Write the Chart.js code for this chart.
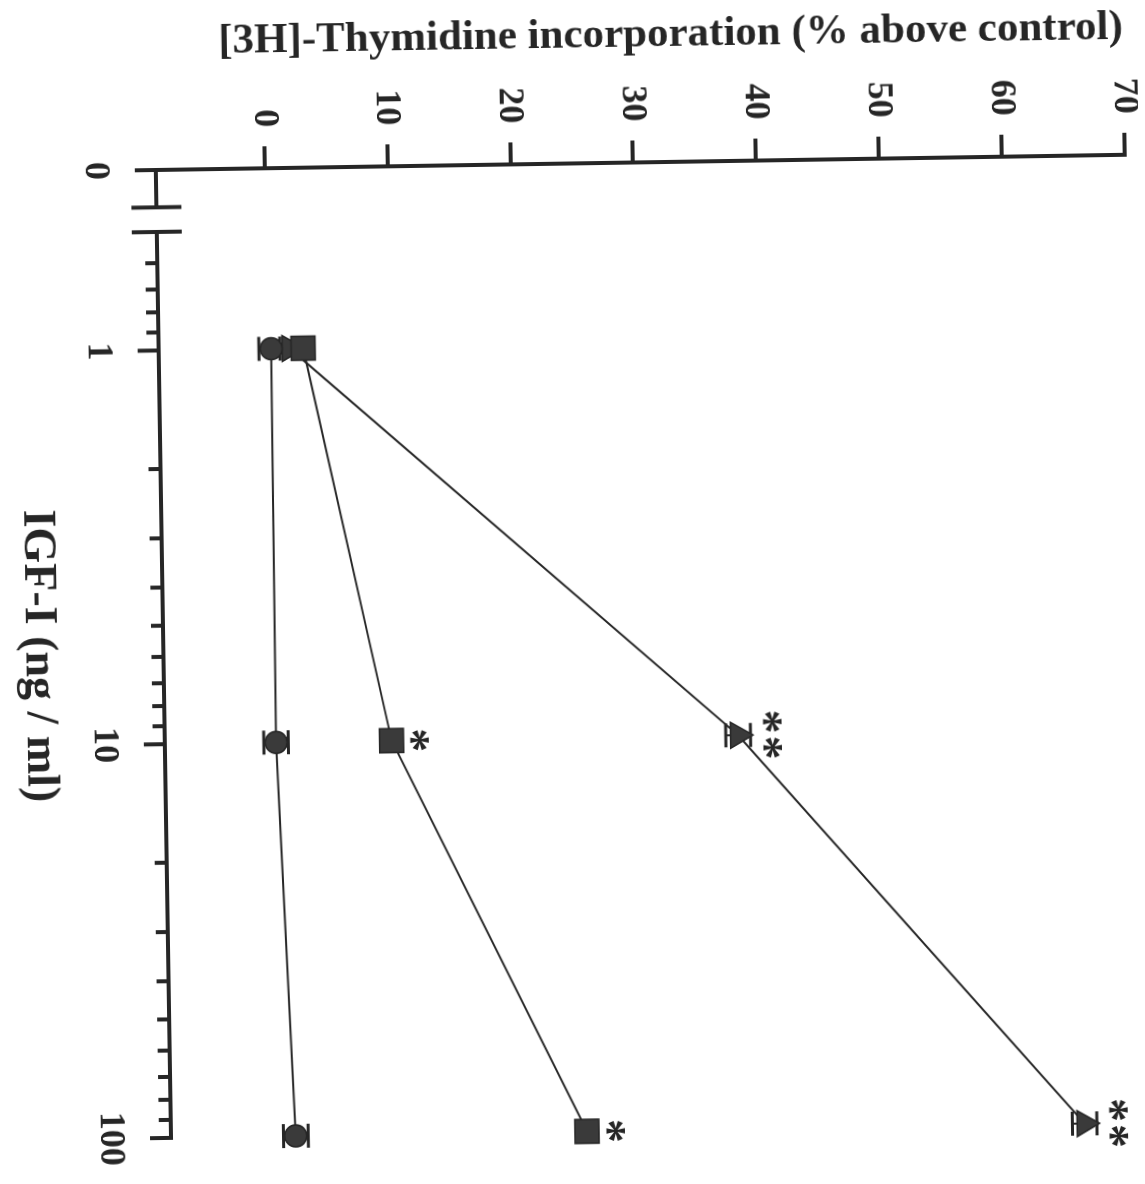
<!DOCTYPE html>
<html>
<head>
<meta charset="utf-8">
<title>IGF-I dose response</title>
<script src="https://cdn.jsdelivr.net/npm/chart.js@4.4.0/dist/chart.umd.min.js"></script>
<style>
  html, body { margin: 0; padding: 0; background: #fff; overflow: hidden; }
  /* the plot is laid out normally, then turned on its side */
  #wrap { position: absolute; left: -19.5px; top: 19.5px; width: 1184px; height: 1145px; transform: rotate(89.1deg); }
  canvas { display: block; background: #fff; }
</style>
</head>
<body>
<div id="wrap"><canvas id="doseChart" width="1184" height="1145"></canvas></div>
<script>
// IGF-I concentration, ng/ml
const doses = [1, 10, 100];

// [3H]-thymidine incorporation, % above control (mean and error)
const circleMeans = [0.3, 0.2, 1.3];
const circleErr = [1.0, 1.0, 1.0];
const squareMeans = [2.9, 9.6, 25.0];
const squareErr = [0.6, 0.6, 0.6];
const triangleMeans = [1.8, 37.8, 65.5];
const triangleErr = [0.8, 1.0, 1.0];

// significance marks
const squareMarks = ['', '*', '*'];
const triangleMarks = ['', '**', '**'];

// axes
const yMin = -8.86;
const yMax = 70;
const yTicks = [0, 10, 20, 30, 40, 50, 60, 70];
const xMin = 0.348;        // where the "0" dose sits, left of the break
const xMax = 100;
const xBreak = [0.433, 0.5];
const xTicks = [xMin, 0.6, 0.7, 0.8, 0.9, 1, 2, 3, 4, 5, 6, 7, 8, 9, 10, 20, 30, 40, 50, 60, 70, 80, 90, 100];
const xTickLabels = ['0', '', '', '', '', '1', '', '', '', '', '', '', '', '', '10', '', '', '', '', '', '', '', '', '100'];
const xMajor = [xMin, 1, 10, 100];

const ink = '#262626';
const serif = "'Liberation Serif', 'Times New Roman', serif";

const toPoints = means => doses.map((d, i) => ({ x: d, y: means[i] }));

// error bars go under the markers, significance stars on top
const errorBars = {
  id: 'errorBars',
  beforeDatasetsDraw(chart) {
    const { ctx, scales: { y } } = chart;
    ctx.save();
    ctx.strokeStyle = ink;
    chart.data.datasets.forEach((ds, i) => {
      chart.getDatasetMeta(i).data.forEach((pt, j) => {
        const v = ds.data[j].y, e = ds.errors[j];
        const hi = y.getPixelForValue(v + e), lo = y.getPixelForValue(v - e);
        ctx.lineWidth = 2;
        ctx.beginPath();
        ctx.moveTo(pt.x, hi); ctx.lineTo(pt.x, lo);
        ctx.stroke();
        ctx.lineWidth = 3;
        ctx.beginPath();
        ctx.moveTo(pt.x - 12, hi); ctx.lineTo(pt.x + 12, hi);
        ctx.moveTo(pt.x - 12, lo); ctx.lineTo(pt.x + 12, lo);
        ctx.stroke();
      });
    });
    ctx.restore();
  },
  afterDatasetsDraw(chart) {
    const { ctx, scales: { y } } = chart;
    ctx.save();
    ctx.fillStyle = ink;
    ctx.font = 'bold 48px ' + serif;
    ctx.textAlign = 'center';
    ctx.textBaseline = 'middle';
    chart.data.datasets.forEach((ds, i) => {
      if (!ds.marks) return;
      chart.getDatasetMeta(i).data.forEach((pt, j) => {
        const m = ds.marks[j];
        if (!m) return;
        const ty = y.getPixelForValue(ds.data[j].y) - ds.markOffset;
        if (m.length === 1) {
          ctx.fillText('*', pt.x, ty);
        } else {
          ctx.fillText('*', pt.x - 13, ty);
          ctx.fillText('*', pt.x + 13, ty);
        }
      });
    });
    ctx.restore();
  }
};

// dose axis with a break between 0 and the log decades
const brokenAxis = {
  id: 'brokenAxis',
  afterDraw(chart) {
    const { ctx, scales: { x } } = chart;
    const base = x.top;
    const px = v => x.getPixelForValue(v);
    ctx.save();
    ctx.strokeStyle = ink;
    ctx.lineWidth = 4;
    ctx.beginPath();
    ctx.moveTo(px(xMin) - 2, base); ctx.lineTo(px(xBreak[0]), base);
    ctx.moveTo(px(xBreak[1]), base); ctx.lineTo(px(xMax) + 2, base);
    xBreak.forEach(v => {
      ctx.moveTo(px(v), base - 25); ctx.lineTo(px(v), base + 25);
    });
    xTicks.forEach(v => {
      const len = xMajor.includes(v) ? 21 : 12;
      ctx.moveTo(px(v), base); ctx.lineTo(px(v), base + len);
    });
    ctx.stroke();
    ctx.restore();
  }
};

new Chart(document.getElementById('doseChart'), {
  type: 'line',
  data: {
    datasets: [
      {
        label: 'IGF-I alone',
        data: toPoints(circleMeans),
        errors: circleErr,
        pointStyle: 'circle',
        pointRadius: 11
      },
      {
        label: 'IGF-I + factor',
        data: toPoints(squareMeans),
        errors: squareErr,
        marks: squareMarks,
        markOffset: 18,
        pointStyle: 'rect',
        pointRadius: 17
      },
      {
        label: 'IGF-I + high factor',
        data: toPoints(triangleMeans),
        errors: triangleErr,
        marks: triangleMarks,
        markOffset: 24,
        pointStyle: 'triangle',
        pointRadius: 15
      }
    ].map(ds => Object.assign({
      borderColor: ink,
      borderWidth: 2,
      pointBackgroundColor: '#3a3a3a',
      pointBorderColor: ink,
      pointBorderWidth: 1.5,
      tension: 0,
      fill: false,
      clip: false
    }, ds))
  },
  options: {
    responsive: false,
    animation: false,
    devicePixelRatio: 1,
    layout: { autoPadding: false, padding: { left: 0, top: 14, right: 53, bottom: 0 } },
    plugins: { legend: { display: false }, tooltip: { enabled: false } },
    scales: {
      x: {
        type: 'logarithmic',
        bounds: 'data',
        min: xMin,
        max: xMax,
        afterBuildTicks: s => { s.ticks = xTicks.map(v => ({ value: v })); },
        afterFit: s => { s.height = 162; s.paddingLeft = 0; s.paddingRight = 0; },
        grid: { display: false, drawTicks: false },
        border: { display: false },
        ticks: {
          autoSkip: false,
          maxRotation: 0,
          padding: 39,
          color: ink,
          font: { family: serif, size: 36, weight: 'bold' },
          callback: (v, i) => xTickLabels[i]
        },
        title: {
          display: true,
          text: 'IGF-I (ng / ml)',
          color: ink,
          font: { family: serif, size: 46, weight: 'bold' },
          padding: { top: 0, bottom: 9 }
        }
      },
      y: {
        bounds: 'data',
        min: yMin,
        max: yMax,
        afterBuildTicks: s => { s.ticks = yTicks.map(v => ({ value: v })); },
        afterFit: s => { s.width = 163; s.paddingTop = 0; s.paddingBottom = 0; },
        grid: { drawOnChartArea: false, drawTicks: true, tickLength: 22, lineWidth: 4, color: ink },
        border: { display: true, width: 4, color: ink },
        ticks: {
          padding: 19,
          color: ink,
          font: { family: serif, size: 36, weight: 'bold' }
        },
        title: {
          display: true,
          text: '[3H]-Thymidine incorporation (% above control)',
          align: 'end',
          color: ink,
          font: { family: serif, size: 43, weight: 'bold' },
          padding: { top: 10, bottom: 0 }
        }
      }
    }
  },
  plugins: [errorBars, brokenAxis]
});
</script>
</body>
</html>
